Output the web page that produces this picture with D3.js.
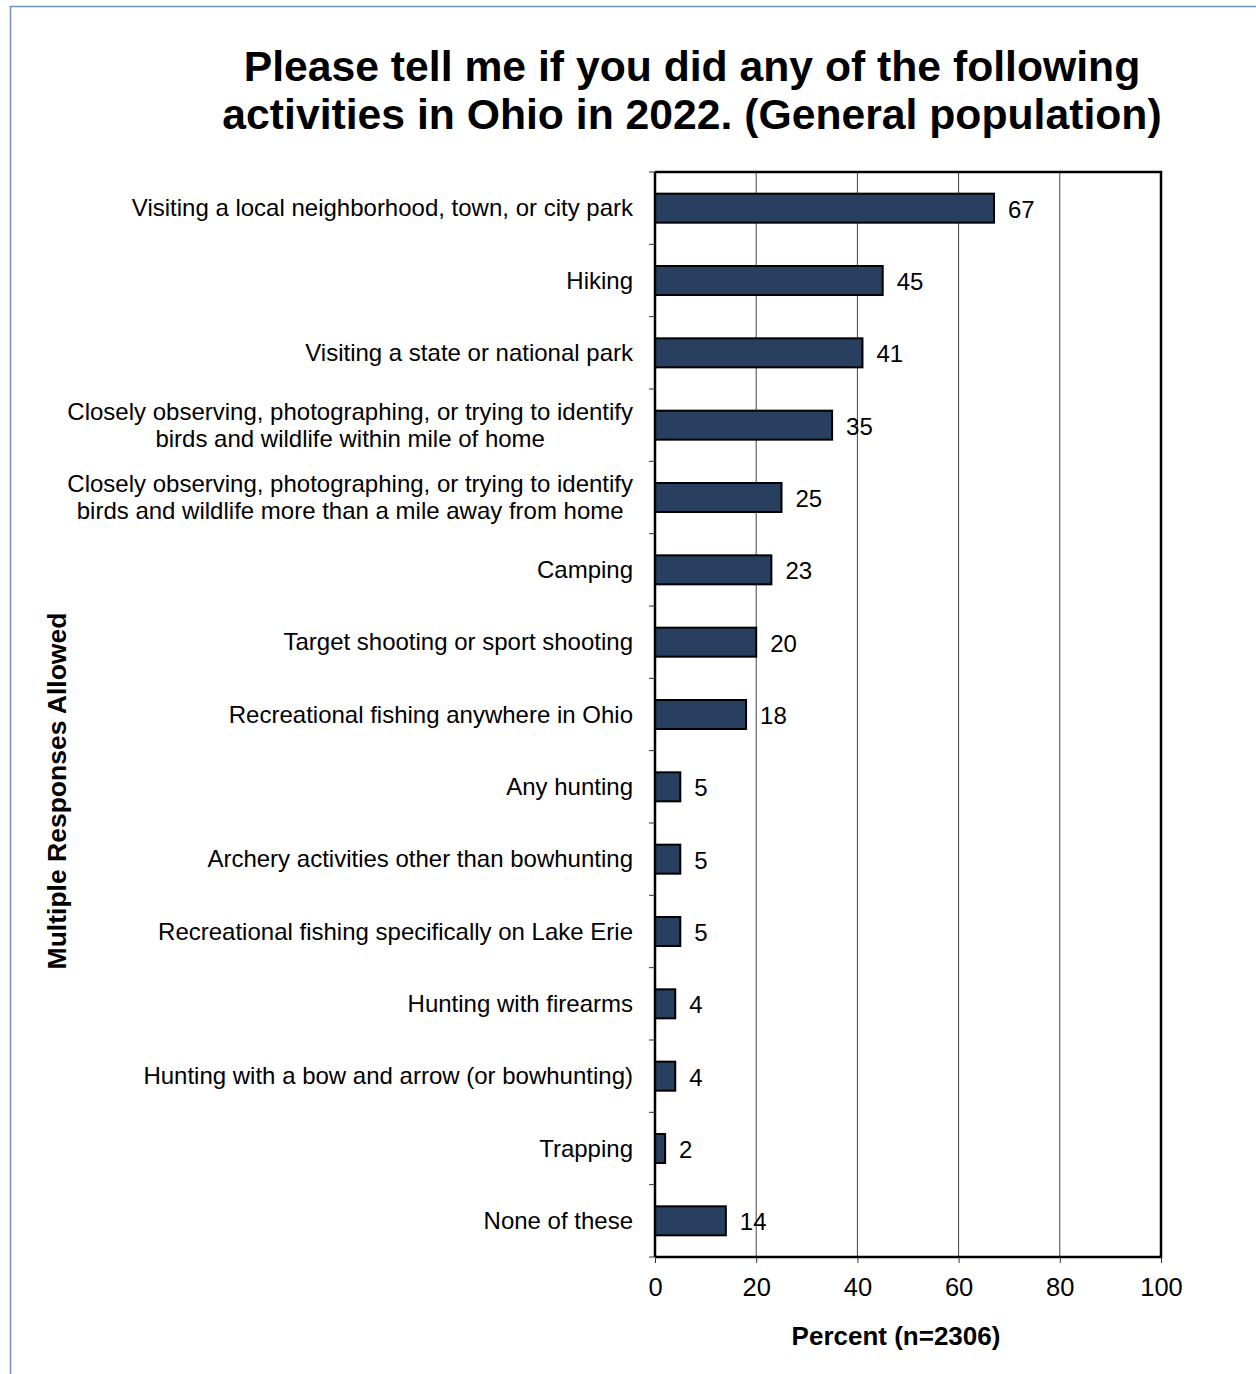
<!DOCTYPE html>
<html>
<head>
<meta charset="utf-8">
<script src="https://cdn.jsdelivr.net/npm/d3@7"></script>
<style>
  html, body { margin: 0; padding: 0; background: #fff; }
  svg { display: block; font-family: Arial, "Liberation Sans", sans-serif; }
</style>
</head>
<body>
<svg id="chart" width="1256" height="1374"></svg>
<script>
// Activities (label lines) and percentages
const categories = [
  ["Visiting a local neighborhood, town, or city park"],
  ["Hiking"],
  ["Visiting a state or national park"],
  ["Closely observing, photographing, or trying to identify", "birds and wildlife within mile of home"],
  ["Closely observing, photographing, or trying to identify", "birds and wildlife more than a mile away from home"],
  ["Camping"],
  ["Target shooting or sport shooting"],
  ["Recreational fishing anywhere in Ohio"],
  ["Any hunting"],
  ["Archery activities other than bowhunting"],
  ["Recreational fishing specifically on Lake Erie"],
  ["Hunting with firearms"],
  ["Hunting with a bow and arrow (or bowhunting)"],
  ["Trapping"],
  ["None of these"]
];
const values = [67, 45, 41, 35, 25, 23, 20, 18, 5, 5, 5, 4, 4, 2, 14];
const xTicks = [0, 20, 40, 60, 80, 100];

const titleLines = [
  "Please tell me if you did any of the following",
  "activities in Ohio in 2022. (General population)"
];
const xTitle = "Percent (n=2306)";
const yTitle = "Multiple Responses Allowed";

const svg = d3.select("#chart");
const plot = { left: 655, right: 1161, top: 172, bottom: 1257 };

// Outer frame (top and left edges visible)
svg.append("path")
  .attr("d", "M10.5,1374 L10.5,6.5 L1256,6.5")
  .attr("fill", "none")
  .attr("stroke", "#7094bb")
  .attr("stroke-width", 1.5);

const x = d3.scaleLinear().domain([0, 100]).range([plot.left, plot.right]);
const idx = d3.range(categories.length);
const y = d3.scaleBand().domain(idx).range([plot.top, plot.bottom]).paddingInner(0).paddingOuter(0);

// Title
svg.append("g").selectAll("text").data(titleLines).join("text")
  .attr("x", 692)
  .attr("y", (d, i) => 81 + i * 48)
  .attr("text-anchor", "middle")
  .attr("font-size", 42.7)
  .attr("font-weight", "bold")
  .attr("fill", "#000")
  .text(d => d);

// Vertical gridlines
svg.append("g").selectAll("line").data(xTicks.slice(1, -1)).join("line")
  .attr("x1", d => x(d)).attr("x2", d => x(d))
  .attr("y1", plot.top).attr("y2", plot.bottom)
  .attr("stroke", "#444").attr("stroke-width", 1);

// Bars
const barH = 29;
svg.append("g").selectAll("rect").data(values).join("rect")
  .attr("x", x(0))
  .attr("y", (d, i) => y(i) + y.bandwidth() / 2 - barH / 2)
  .attr("width", d => x(d) - x(0))
  .attr("height", barH)
  .attr("fill", "#283f5f")
  .attr("stroke", "#000")
  .attr("stroke-width", 2);

// Value labels
svg.append("g").selectAll("text").data(values).join("text")
  .attr("x", d => x(d) + 14)
  .attr("y", (d, i) => y(i) + y.bandwidth() / 2 + 1)
  .attr("dy", "0.36em")
  .attr("font-size", 24)
  .attr("fill", "#000")
  .text(d => d);

// Plot frame: top, right, bottom edges
svg.append("path")
  .attr("d", `M${plot.left},${plot.top} H${plot.right} V${plot.bottom} H${plot.left}`)
  .attr("fill", "none").attr("stroke", "#000").attr("stroke-width", 2.5);

// Left axis with ticks at band boundaries
const boundaries = d3.range(categories.length + 1).map(i => plot.top + i * y.step());
svg.append("line")
  .attr("x1", plot.left).attr("x2", plot.left)
  .attr("y1", plot.top).attr("y2", plot.bottom)
  .attr("stroke", "#000").attr("stroke-width", 2.5);
svg.append("g").selectAll("line").data(boundaries).join("line")
  .attr("x1", plot.left - 6).attr("x2", plot.left)
  .attr("y1", d => d).attr("y2", d => d)
  .attr("stroke", "#333").attr("stroke-width", 1);

// Category labels: block right-aligned at the axis, lines centred within the block
const labelRight = 633;
const catG = svg.append("g");
categories.forEach((lines, i) => {
  const cy = y(i) + y.bandwidth() / 2;
  const lh = 27;
  const t = catG.append("text")
    .attr("font-size", 24)
    .attr("fill", "#000");
  const spans = lines.map((ln, j) =>
    t.append("tspan")
      .attr("y", cy + (j - (lines.length - 1) / 2) * lh)
      .attr("dy", "0.34em")
      .text(ln));
  const widest = d3.max(spans, s => s.node().getComputedTextLength());
  spans.forEach(s => s.attr("x", labelRight - widest / 2).attr("text-anchor", "middle"));
});

// Bottom axis
const xAxis = svg.append("g")
  .attr("transform", `translate(0,${plot.bottom})`)
  .call(d3.axisBottom(x).tickValues(xTicks).tickSize(6).tickPadding(15).tickFormat(d3.format("d")));
xAxis.select(".domain").remove();
xAxis.selectAll(".tick line").attr("stroke", "#333");
xAxis.selectAll(".tick text")
  .attr("font-size", 25.5)
  .attr("font-family", "Arial, 'Liberation Sans', sans-serif")
  .attr("fill", "#000");

// Axis titles
svg.append("text")
  .attr("x", 896).attr("y", 1345)
  .attr("text-anchor", "middle")
  .attr("font-size", 26).attr("font-weight", "bold")
  .text(xTitle);

svg.append("text")
  .attr("transform", "translate(66,791) rotate(-90)")
  .attr("text-anchor", "middle")
  .attr("font-size", 26.5).attr("font-weight", "bold")
  .text(yTitle);
</script>
</body>
</html>
